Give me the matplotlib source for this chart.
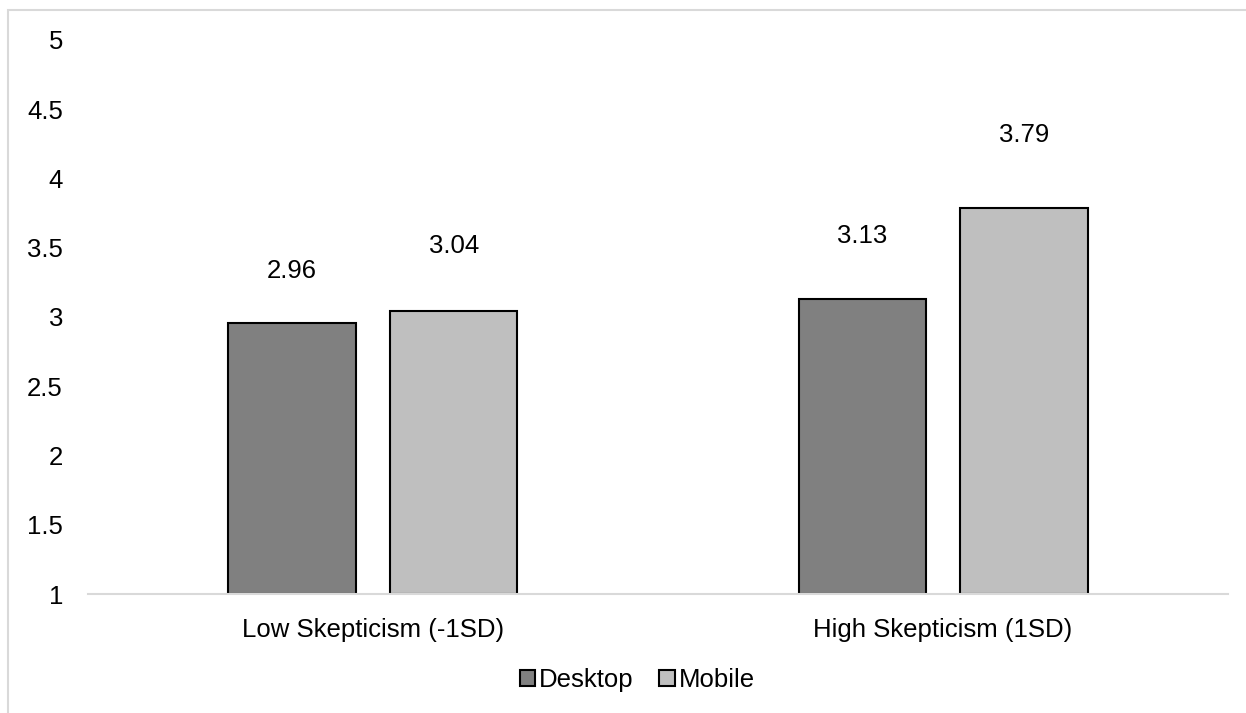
import numpy as np
import matplotlib
matplotlib.use("Agg")
import matplotlib.pyplot as plt
from matplotlib.patches import Rectangle

plt.rcParams['font.family'] = ['Liberation Sans', 'DejaVu Sans']

# data
categories = ["Low Skepticism (-1SD)", "High Skepticism (1SD)"]
series_names = ["Desktop", "Mobile"]
desktop = [2.96, 3.13]
mobile = [3.04, 3.79]
yticks = [1, 1.5, 2, 2.5, 3, 3.5, 4, 4.5, 5]
ytick_labels = ["1", "1.5", "2", "2.5", "3", "3.5", "4", "4.5", "5"]

# style
colors = ["#808080", "#bfbfbf"]
label_offsets = [[37, 45], [47, 52]]  # points above bar top, per series/category
fs = 18.5

fig = plt.figure(figsize=(12.46, 7.13), dpi=100)
ax = fig.add_axes([0.0706, 0.1669, 0.915, 0.7770])

x = np.arange(len(categories))
width = 0.223
shift = 0.142

for i, (vals, name) in enumerate(zip([desktop, mobile], series_names)):
    xs = x + (i * 2 - 1) * shift
    bars = ax.bar(xs, [v - 1 for v in vals], bottom=1, width=width, color=colors[i],
                  edgecolor="black", linewidth=1.5, label=name)
    for xi, v, off in zip(xs, vals, label_offsets[i]):
        ax.annotate(f"{v:.2f}", (xi, v), xytext=(0, off), textcoords="offset points",
                    ha="center", va="center", fontsize=fs)

ax.set_xlim(-0.5, 1.5)
ax.set_ylim(1, 5)
ax.set_yticks(yticks)
ax.set_yticklabels(ytick_labels, fontsize=fs)
ax.set_xticks(x)
ax.set_xticklabels(categories, fontsize=fs)
ax.tick_params(axis="both", length=0)
ax.tick_params(axis="y", pad=18)
ax.tick_params(axis="x", pad=17)
for s in ["top", "right", "left"]:
    ax.spines[s].set_visible(False)
ax.spines["bottom"].set_color("#d9d9d9")
ax.spines["bottom"].set_linewidth(1.5)

ax.legend(loc="center", bbox_to_anchor=(0.4816, -0.155), ncol=2, frameon=False,
          fontsize=fs, handlelength=0.6, handleheight=0.6, handletextpad=0.15,
          columnspacing=1.0)

# outer chart border
fig.patches.append(Rectangle((8 / 1246, -0.1), 1.2, 1 - 10 / 713 + 0.1,
                             transform=fig.transFigure, fill=False,
                             edgecolor="#d9d9d9", linewidth=1.5))

fig.savefig("out.png", dpi=100)
